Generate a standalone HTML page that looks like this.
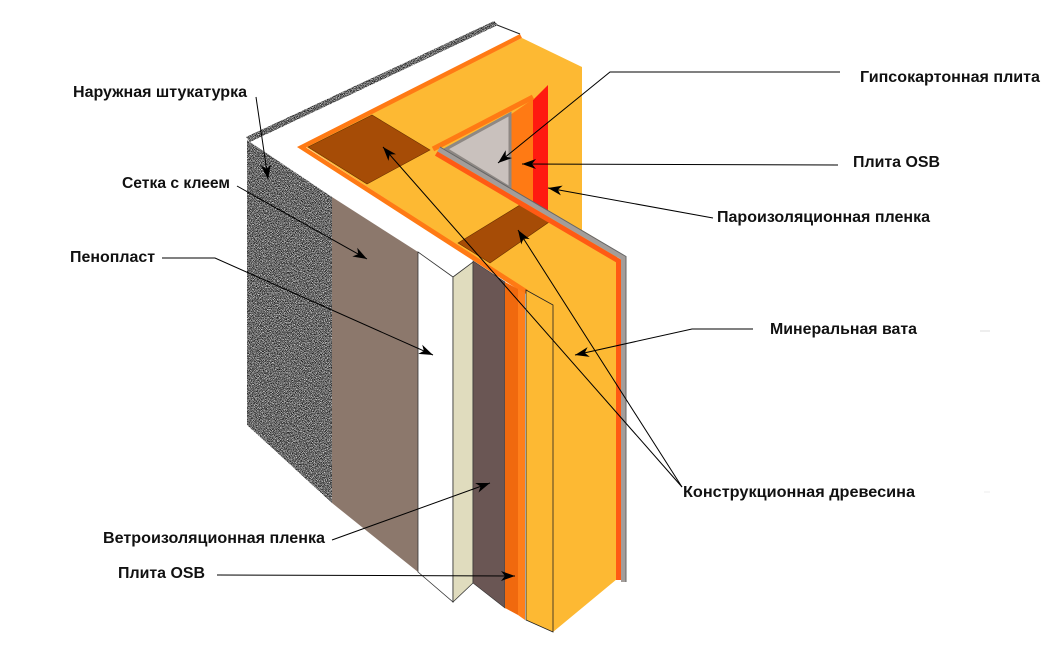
<!DOCTYPE html>
<html><head><meta charset="utf-8"><style>
html,body{margin:0;padding:0;background:#fff;}
svg{display:block;}
text{font-family:"Liberation Sans",Arial,sans-serif;font-weight:bold;font-size:16px;fill:#111;}
</style></head><body>
<svg width="1063" height="659" viewBox="0 0 1063 659" xmlns="http://www.w3.org/2000/svg">
<defs>
<filter id="noise" x="0" y="0" width="1" height="1" color-interpolation-filters="sRGB">
<feTurbulence type="fractalNoise" baseFrequency="1.6" numOctaves="1" seed="7"/>
<feColorMatrix type="matrix" values="3.2 0 0 0 -1.2  3.2 0 0 0 -1.2  3.2 0 0 0 -1.2  0 0 0 0 1"/>
<feComposite in2="SourceGraphic" operator="in"/>
</filter>
<marker id="ah" markerUnits="userSpaceOnUse" markerWidth="16" markerHeight="12" viewBox="-15 -6 16 12" refX="0" refY="0" orient="auto">
<path d="M0,0 L-14,-5 L-10,0 L-14,5 Z" fill="#000"/>
</marker>
</defs>

<!-- white top face -->
<polygon points="247,141 497,26 520,34 297,147 473,261 453,277" fill="#fff"/>
<!-- big yellow -->
<polygon points="306,147 522,38 582,67 582,230 617,251 617,579 553,632 526,620 526,290" fill="#fdb933"/>
<!-- brown stud squares -->
<polygon points="308,147 372,115 430,150 367,184" fill="#a64c06" stroke="#6a3000" stroke-width="0.6"/>
<polygon points="458,243 520,205 552,220 490,263" fill="#a64c06" stroke="#6a3000" stroke-width="0.6"/>
<!-- orange L strip -->
<polygon points="520,34 297,147 525,294 528,290 306,147.5 522,38" fill="#ff7a14"/>

<!-- inner corner -->
<polygon points="510,115 533,99 533,202 510,189" fill="#ff7a14"/>
<polygon points="533,100 548,85 548,212 533,203" fill="#ff1a10"/>
<polyline points="433,149 533,97" fill="none" stroke="#ff7a14" stroke-width="5"/>
<polygon points="446,149 510,114 510,188" fill="#c9c1bd" stroke="#8e8884" stroke-width="3" stroke-linejoin="miter"/>
<polyline points="436.2,153.5 618.5,260.9 618.5,580" fill="none" stroke="#ff5a14" stroke-width="5" stroke-linejoin="miter"/>
<polyline points="438.7,149.2 623.5,258 623.5,582" fill="none" stroke="#a39d9a" stroke-width="5" stroke-linejoin="miter"/>
<polyline points="440,147 626,256.5 626,582" fill="none" stroke="#666" stroke-width="1"/>

<!-- front faces -->
<polygon points="247,140 332,197 332,503 247,425" fill="#777" filter="url(#noise)"/>
<polygon points="332,197 418,252 418,572 332,503" fill="#8c786c"/>
<polygon points="418,252 453,277 453,602 418,572" fill="#fff" stroke="#333" stroke-width="0.8"/>
<polygon points="453,277 473,262 473,583 453,602" fill="#e0dcbe" stroke="#333" stroke-width="0.8"/>
<polygon points="473,261 505,282 505,608 473,583" fill="#6a5654" stroke="#333" stroke-width="0.6"/>
<polygon points="505,282 518,289 518,615 505,608" fill="#f0690e"/>
<polygon points="518,289 525,293 525,620 518,615" fill="#ff7f1a"/>
<polygon points="526,290 553,305 553,632 526,620" fill="#fdb933" stroke="#222" stroke-width="0.8"/>
<!-- stucco top strip -->
<polygon points="246,137 494,21 498,25 250,142" fill="#777" filter="url(#noise)"/>
<line x1="497" y1="25" x2="520" y2="34" stroke="#222" stroke-width="1"/>

<!-- leader lines -->
<g fill="none" stroke="#000" stroke-width="1">
<polyline points="256,97 268,179" marker-end="url(#ah)"/>
<polyline points="237,186 367,259" marker-end="url(#ah)"/>
<polyline points="162,258 215,258 433,355" marker-end="url(#ah)"/>
<polyline points="332,540 490,483" marker-end="url(#ah)"/>
<polyline points="217,575 515,576" marker-end="url(#ah)"/>
<polyline points="840,72 610,72 498,163" marker-end="url(#ah)"/>
<polyline points="838,165 522,164" marker-end="url(#ah)"/>
<polyline points="713,218 548,188" marker-end="url(#ah)"/>
<polyline points="753,329 692,329 575,355" marker-end="url(#ah)"/>
<polyline points="682,487 383,147" marker-end="url(#ah)"/>
<polyline points="682,487 518,230" marker-end="url(#ah)"/>
</g>
<line x1="980" y1="331" x2="990" y2="331" stroke="#ddd" stroke-width="1"/>
<line x1="984" y1="492" x2="990" y2="492" stroke="#eee" stroke-width="1"/>

<!-- labels -->
<text x="73" y="97" textLength="174" lengthAdjust="spacingAndGlyphs">Наружная штукатурка</text>
<text x="122" y="188" textLength="108" lengthAdjust="spacingAndGlyphs">Сетка с клеем</text>
<text x="70" y="262" textLength="85" lengthAdjust="spacingAndGlyphs">Пенопласт</text>
<text x="103" y="543" textLength="222" lengthAdjust="spacingAndGlyphs">Ветроизоляционная пленка</text>
<text x="118" y="578" textLength="87" lengthAdjust="spacingAndGlyphs">Плита OSB</text>
<text x="860" y="82" textLength="180" lengthAdjust="spacingAndGlyphs">Гипсокартонная плита</text>
<text x="853" y="167" textLength="87" lengthAdjust="spacingAndGlyphs">Плита OSB</text>
<text x="717" y="222" textLength="213" lengthAdjust="spacingAndGlyphs">Пароизоляционная пленка</text>
<text x="770" y="334" textLength="147" lengthAdjust="spacingAndGlyphs">Минеральная вата</text>
<text x="683" y="497" textLength="232" lengthAdjust="spacingAndGlyphs">Конструкционная древесина</text>
</svg>
</body></html>
